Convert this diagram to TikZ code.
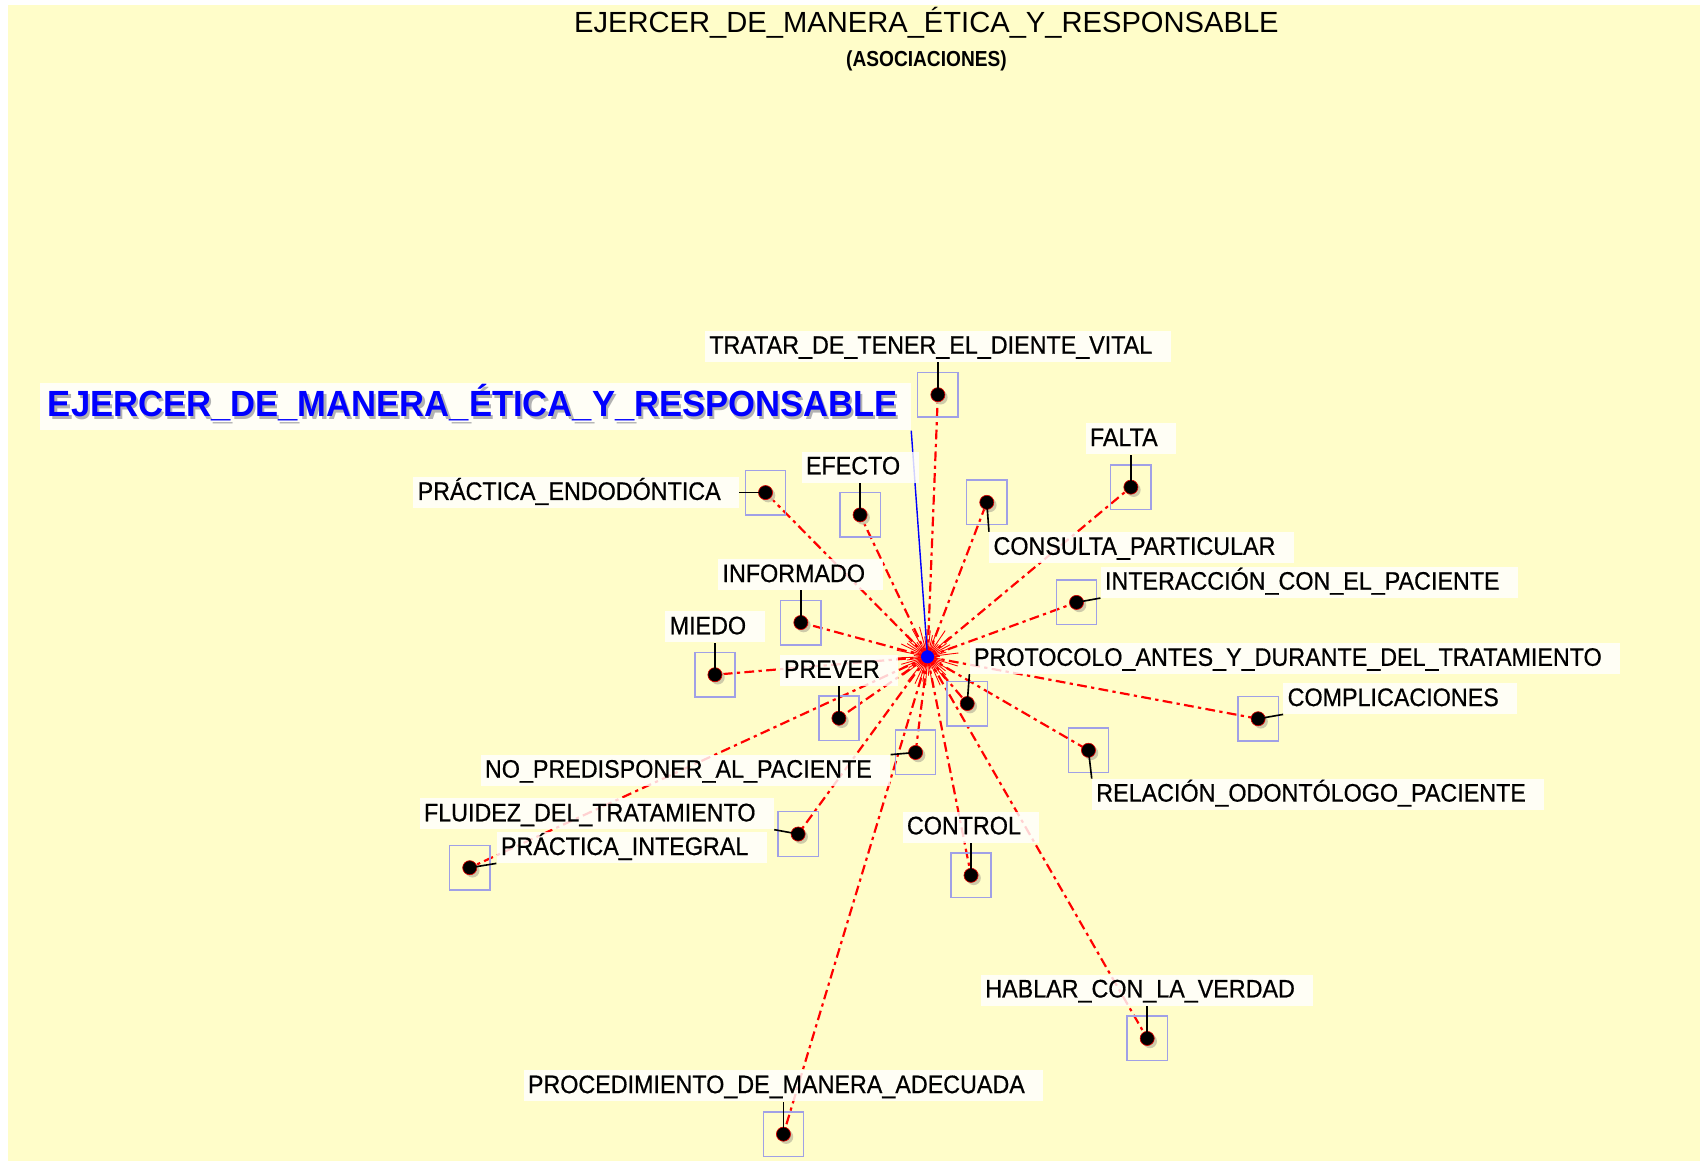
\documentclass[tikz,border=0pt]{standalone}
\usepackage{fontspec}
\setmainfont{Liberation Sans}
\newfontfamily\lblfont{Liberation Sans}[FakeStretch=0.92,FakeBold=0.6]
\newfontfamily\bigfont{Liberation Sans}[FakeStretch=0.95]
\newfontfamily\asofont{Liberation Sans}[FakeStretch=0.88]
\usetikzlibrary{shadows}
\definecolor{bgy}{HTML}{FFFDC9}
\definecolor{sqc}{HTML}{A0A0E6}
\definecolor{shc}{HTML}{C9C6A6}
\newcommand{\lbltxt}[1]{#1\kern13pt}
\pgfdeclarelayer{back}
\pgfdeclarelayer{lines}
\pgfsetlayers{back,lines,main}
\begin{document}
\begin{tikzpicture}[x=1pt,y=-1pt,
  lbl/.style={font=\lblfont\fontsize{23.3}{24}\selectfont, fill=white, fill opacity=0.82, text opacity=1,
              inner xsep=4pt, inner ysep=4pt, text height=17pt, text depth=3.5pt},
  sq/.style={draw=sqc, line width=1.3pt, minimum width=37pt, minimum height=41pt, inner sep=0pt},
  dotn/.style={circle, fill=black, draw=red!85!black, line width=0.6pt, minimum size=13pt, inner sep=0pt,
               drop shadow={shadow xshift=2.5pt, shadow yshift=-2.5pt, fill=shc, opacity=0.9}},
  rel/.style={red, line width=2pt, dash pattern=on 9pt off 4pt on 3pt off 4pt},
  tickln/.style={black, line width=1.5pt},
]
\useasboundingbox (0,0) rectangle (1568,1070);
\begin{pgfonlayer}{back}
  \fill[white] (0,0) rectangle (1568,1070);
  \fill[bgy] (7,5) rectangle (1563,1068);
\end{pgfonlayer}

% titles
\node[font=\fontsize{26.8}{30}\selectfont, anchor=base, inner sep=0pt] (title) at (852,30)
  {EJERCER\_DE\_MANERA\_ÉTICA\_Y\_RESPONSABLE};
\node[font=\asofont\bfseries\fontsize{20}{22}\selectfont, anchor=base, inner sep=0pt] (sub) at (852,61)
  {(ASOCIACIONES)};

% centre
\node[circle, fill=blue, minimum size=12pt, inner sep=0pt] (c) at (853,604) {};

% big label
\node[anchor=south east, fill=white, fill opacity=0.85, text opacity=1, inner xsep=7pt, inner ysep=7.5pt,
      text height=24pt, text depth=5pt, font=\bigfont\bfseries\fontsize{33.5}{36}\selectfont] (big) at (838,396)
  {\rlap{\kern2pt\raisebox{-2.5pt}{\textcolor{black!30}{EJERCER\_DE\_MANERA\_ÉTICA\_Y\_RESPONSABLE}}}\textcolor{blue}{EJERCER\_DE\_MANERA\_ÉTICA\_Y\_RESPONSABLE}\kern5pt};

% labels
\node[lbl, anchor=south] (l1) at (862.5,333) {\lbltxt{TRATAR\_DE\_TENER\_EL\_DIENTE\_VITAL}};
\node[lbl, anchor=south] (l2) at (1040,418) {\lbltxt{FALTA}};
\node[lbl, anchor=south] (l3) at (791,444) {\lbltxt{EFECTO}};
\node[lbl, anchor=east] (l4) at (680,453) {\lbltxt{PRÁCTICA\_ENDODÓNTICA}};
\node[lbl, anchor=north west] (l5) at (909.5,489) {\lbltxt{CONSULTA\_PARTICULAR}};
\node[lbl, anchor=south west] (l6) at (1012,550) {\lbltxt{INTERACCIÓN\_CON\_EL\_PACIENTE}};
\node[lbl, anchor=south] (l7) at (736.5,543) {\lbltxt{INFORMADO}};
\node[lbl, anchor=south] (l8) at (657.5,591) {\lbltxt{MIEDO}};
\node[lbl, anchor=south west] (l9) at (891.5,620) {\lbltxt{PROTOCOLO\_ANTES\_Y\_DURANTE\_DEL\_TRATAMIENTO}};
\node[lbl, anchor=south] (l10) at (771.5,631) {\lbltxt{PREVER}};
\node[lbl, anchor=south west] (l11) at (1180,657) {\lbltxt{COMPLICACIONES}};
\node[lbl, anchor=north east] (l12) at (819,694) {\lbltxt{NO\_PREDISPONER\_AL\_PACIENTE}};
\node[lbl, anchor=north west] (l13) at (1004,716) {\lbltxt{RELACIÓN\_ODONTÓLOGO\_PACIENTE}};
\node[lbl, anchor=south east] (l14) at (712,763) {\lbltxt{FLUIDEZ\_DEL\_TRATAMIENTO}};
\node[lbl, anchor=south west] (l15) at (456.5,794) {\lbltxt{PRÁCTICA\_INTEGRAL}};
\node[lbl, anchor=south] (l16) at (893,775) {\lbltxt{CONTROL}};
\node[lbl, anchor=south] (l17) at (1055,925) {\lbltxt{HABLAR\_CON\_LA\_VERDAD}};
\node[lbl, anchor=south] (l18) at (720.5,1013) {\lbltxt{PROCEDIMIENTO\_DE\_MANERA\_ADECUADA}};

% squares
\foreach \i/\x/\y in {1/862.5/363, 2/1040/448, 3/791/473.5, 4/704/453, 5/907.5/462, 6/990/554,
                      7/736.5/572.5, 8/657.5/620.5, 9/889.5/647, 10/771.5/660.5, 11/1157/661,
                      12/842/692, 13/1001/690, 14/734/767, 15/432/798, 16/893/805, 17/1055/955, 18/720.5/1043}
  \node[sq] (s\i) at (\x,\y) {};

% dots
\foreach \i in {1,...,18}
  \node[dotn] (d\i) at (s\i.center) {};

% ticks
\draw[tickln] (d1.center) -- (l1.south);
\draw[tickln] (d2.center) -- (l2.south);
\draw[tickln] (d3.center) -- (l3.south);
\draw[tickln] (d4.center) -- (l4.east);
\draw[tickln] (d5.center) -- (l5.north west);
\draw[tickln] (d6.center) -- (l6.south west);
\draw[tickln] (d7.center) -- (l7.south);
\draw[tickln] (d8.center) -- (l8.south);
\draw[tickln] (d9.center) -- (l9.south west);
\draw[tickln] (d10.center) -- (l10.south);
\draw[tickln] (d11.center) -- (l11.south west);
\draw[tickln] (d12.center) -- (l12.north east);
\draw[tickln] (d13.center) -- (l13.north west);
\draw[tickln] (d14.center) -- (l14.south east);
\draw[tickln] (d15.center) -- (l15.south west);
\draw[tickln] (d16.center) -- (l16.south);
\draw[tickln] (d17.center) -- (l17.south);
\draw[tickln] (d18.center) -- (l18.south);

% connectors
\begin{pgfonlayer}{lines}
  \foreach \i in {1,...,18}
    \draw[rel] (c.center) -- (d\i.center);
  \foreach \a in {0,7,...,355}
    \draw[red, line width=0.8pt] (c.center) ++(\a:4pt) -- ++(\a:{7pt+18pt*abs(sin(37*\a))});
  \draw[blue, line width=1.3pt] (c.center) -- (big.south east);
\end{pgfonlayer}
\end{tikzpicture}
\end{document}
